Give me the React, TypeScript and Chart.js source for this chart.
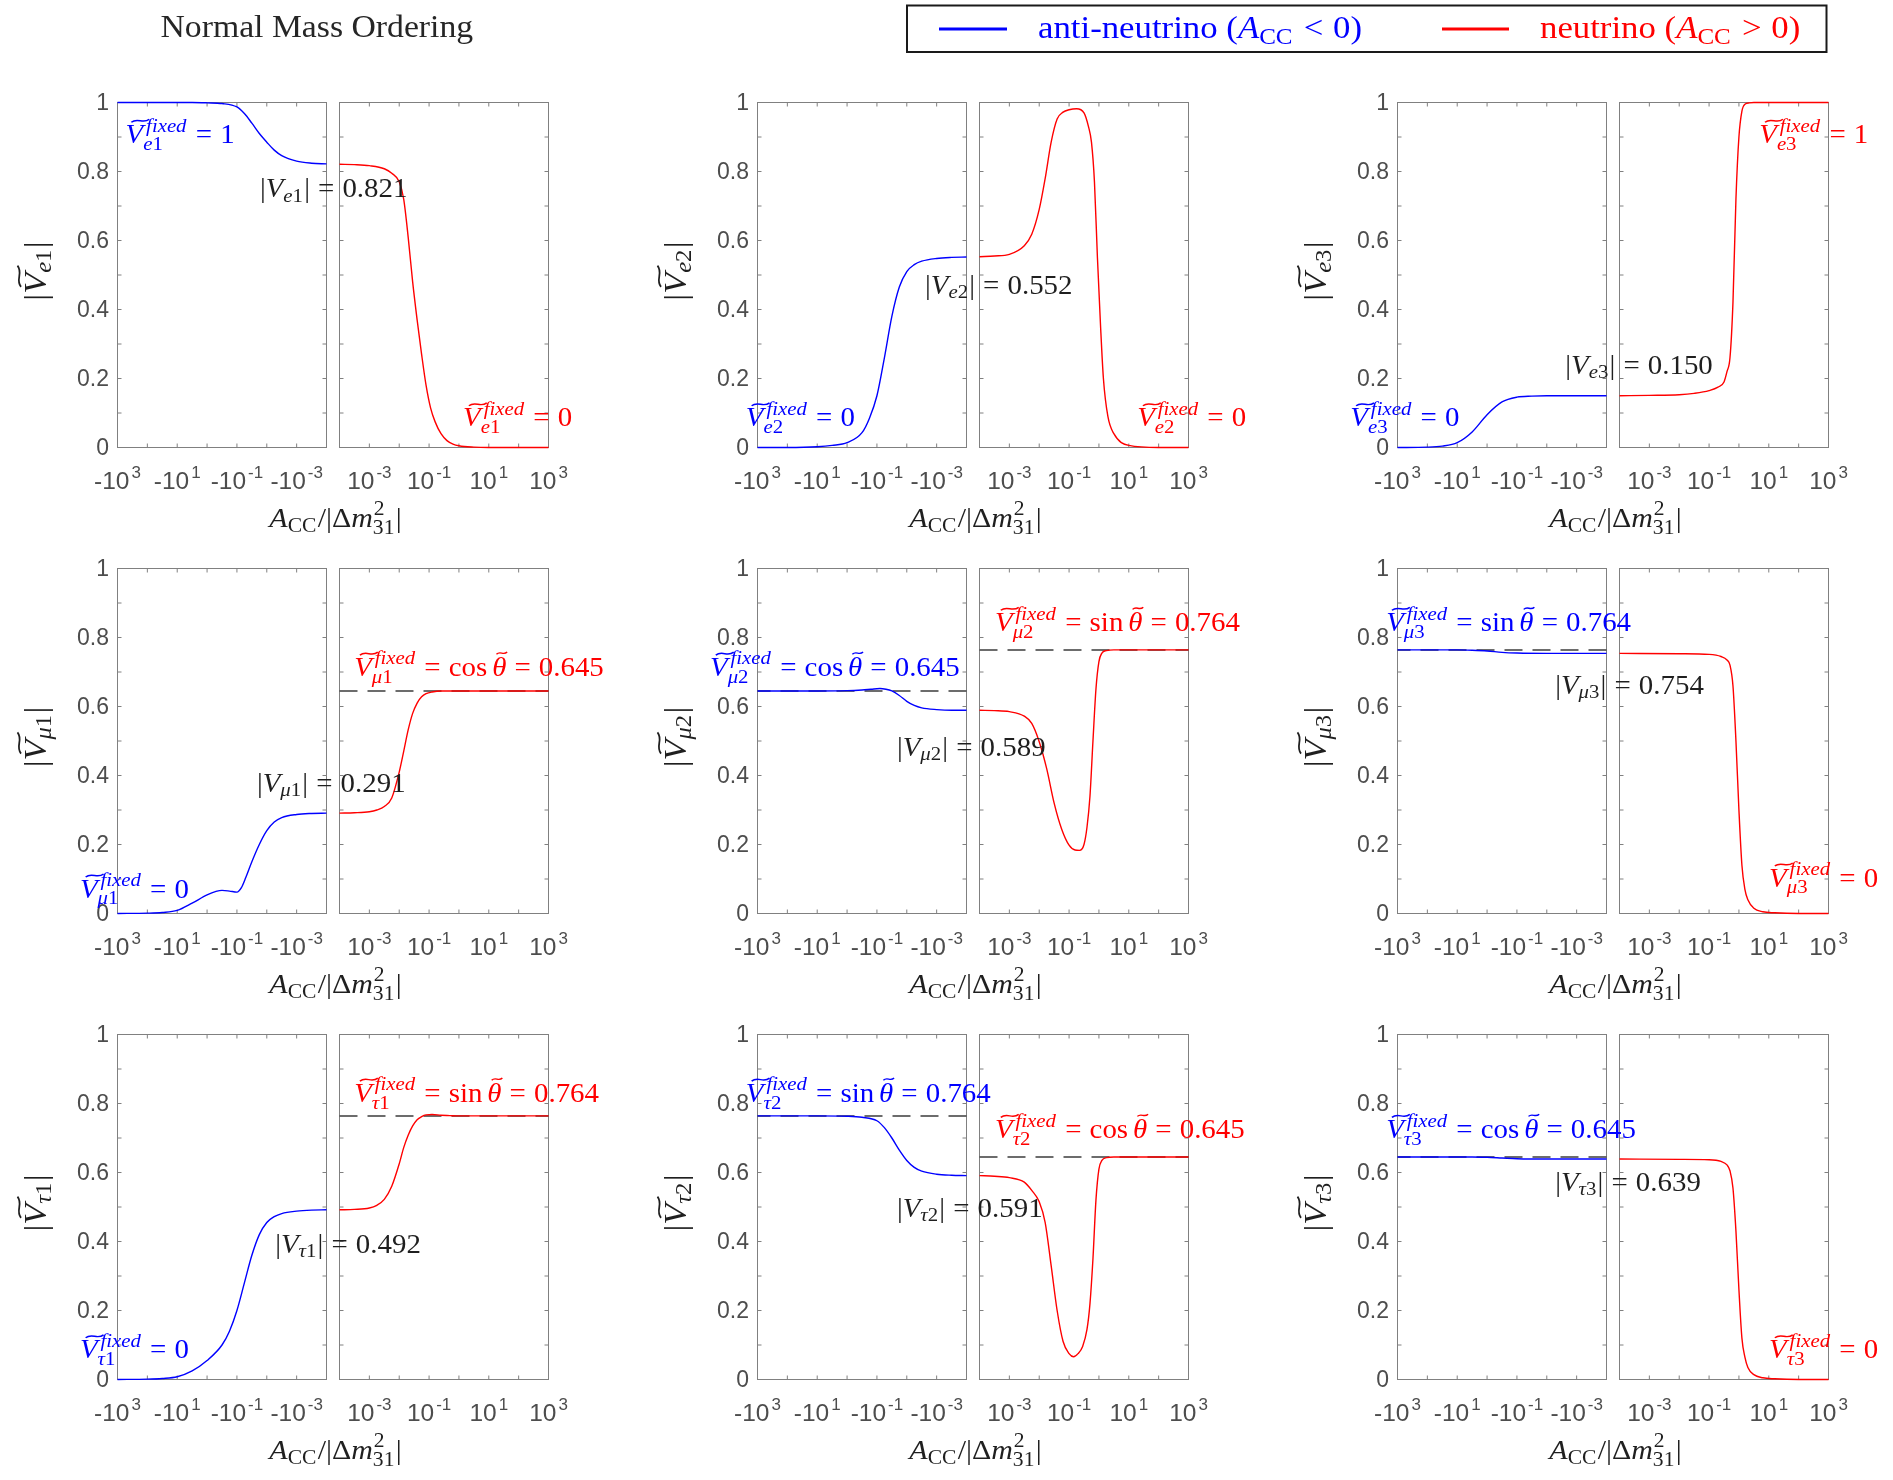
import React, { useEffect, useRef } from 'react';
import { Chart, registerables } from 'chart.js';

Chart.register(...registerables);

// ------------------------------------------------------------------ data
const X_DECADES = [-4, -3, -2, -1, 0, 1, 2, 3];
const X_LABELS_NEG = [3, 1, -1, -3];
const X_LABELS_POS = [-3, -1, 1, 3];
const Y_LABELS = [0, 0.2, 0.4, 0.6, 0.8, 1];
const Y_MINOR = [0.1, 0.2, 0.3, 0.4, 0.5, 0.6, 0.7, 0.8, 0.9];

const COS_THETA = 0.645;
const SIN_THETA = 0.764;
const VACUUM = [0.821, 0.552, 0.15, 0.291, 0.589, 0.754, 0.492, 0.591, 0.639];
const FLAVOURS = ['e', 'μ', 'τ'];
const MASS_IDX = ['1', '2', '3'];
const FIXED_NEG = ['1', '0', '0', '0', 'cos', 'sin', '0', 'sin', 'cos'];
const FIXED_POS = ['0', '0', '1', 'cos', 'sin', '0', 'sin', 'cos', '0'];

// x = log10|A_CC/Δm²31| ; NEG = anti-neutrino (A<0), POS = neutrino (A>0)
const E1_NEG_X = [3, 2, 1, 0.5, 0, -0.5, -1, -1.25, -1.5, -1.75, -2, -2.25, -2.5, -3, -3.5, -4];
const E1_NEG_Y = [1, 1, 1, 1, 0.999, 0.997, 0.987, 0.968, 0.94, 0.91, 0.885, 0.862, 0.846, 0.83, 0.824, 0.822];
const E1_POS_X = [-4, -3.5, -3, -2.5, -2.25, -2, -1.85, -1.7, -1.55, -1.4, -1.25, -1.1, -0.95, -0.8, -0.6, -0.4, -0.2, 0, 0.5, 1, 2, 3];
const E1_POS_Y = [0.821, 0.82, 0.817, 0.808, 0.795, 0.77, 0.72, 0.61, 0.48, 0.37, 0.27, 0.18, 0.115, 0.075, 0.04, 0.02, 0.01, 0.005, 0.001, 0, 0, 0];

const E2_NEG_X = [3, 2, 1, 0.5, 0, -0.5, -0.75, -1, -1.25, -1.5, -1.75, -2, -2.25, -2.5, -3, -3.5, -4];
const E2_NEG_Y = [0, 0, 0.002, 0.006, 0.014, 0.043, 0.085, 0.15, 0.26, 0.38, 0.465, 0.51, 0.53, 0.54, 0.548, 0.551, 0.552];
const E2_POS_X = [-4, -3.5, -3, -2.5, -2.25, -2, -1.8, -1.6, -1.4, -1.2, -1, -0.75, -0.5, -0.35, -0.25, -0.15, -0.05, 0.05, 0.15, 0.3, 0.5, 1, 2, 3];
const E2_POS_Y = [0.553, 0.555, 0.56, 0.585, 0.618, 0.69, 0.78, 0.885, 0.952, 0.972, 0.979, 0.982, 0.97, 0.93, 0.885, 0.77, 0.55, 0.36, 0.2, 0.09, 0.04, 0.006, 0, 0];

const E3_NEG_X = [3, 2, 1.5, 1, 0.5, 0, -0.5, -1, -1.5, -2, -3, -4];
const E3_NEG_Y = [0, 0.001, 0.004, 0.014, 0.045, 0.095, 0.132, 0.146, 0.149, 0.15, 0.15, 0.15];
const E3_POS_X = [-4, -3, -2, -1.5, -1, -0.7, -0.5, -0.4, -0.3, -0.2, -0.1, 0, 0.1, 0.2, 0.35, 0.5, 1, 2, 3];
const E3_POS_Y = [0.15, 0.151, 0.153, 0.157, 0.165, 0.175, 0.19, 0.22, 0.26, 0.42, 0.72, 0.9, 0.975, 0.995, 0.999, 1, 1, 1, 1];

const M1_NEG_X = [3, 2, 1.5, 1, 0.5, 0, -0.3, -0.5, -0.75, -1, -1.15, -1.3, -1.5, -1.75, -2, -2.25, -2.5, -3, -3.5, -4];
const M1_NEG_Y = [0, 0.001, 0.003, 0.009, 0.03, 0.054, 0.064, 0.067, 0.065, 0.062, 0.075, 0.105, 0.15, 0.2, 0.24, 0.265, 0.278, 0.287, 0.29, 0.291];
const M1_POS_X = [-4, -3.5, -3, -2.75, -2.5, -2.25, -2, -1.85, -1.7, -1.55, -1.4, -1.25, -1.1, -0.9, -0.6, 0, 1, 2, 3];
const M1_POS_Y = [0.291, 0.292, 0.295, 0.3, 0.31, 0.335, 0.41, 0.47, 0.532, 0.58, 0.61, 0.628, 0.637, 0.642, 0.645, 0.645, 0.645, 0.645, 0.645];

const M2_NEG_X = [3, 2, 1, 0, -0.5, -0.8, -1.1, -1.3, -1.5, -1.75, -2, -2.25, -2.5, -3, -3.5, -4];
const M2_NEG_Y = [0.645, 0.645, 0.645, 0.646, 0.648, 0.65, 0.652, 0.65, 0.645, 0.632, 0.615, 0.603, 0.596, 0.591, 0.589, 0.589];
const M2_POS_X = [-4, -3.5, -3, -2.5, -2.25, -2, -1.75, -1.5, -1.25, -1, -0.8, -0.65, -0.5, -0.4, -0.3, -0.2, -0.1, 0, 0.1, 0.25, 0.5, 1, 2, 3];
const M2_POS_Y = [0.589, 0.588, 0.585, 0.572, 0.551, 0.498, 0.42, 0.32, 0.245, 0.198, 0.184, 0.183, 0.2, 0.25, 0.34, 0.5, 0.65, 0.73, 0.755, 0.762, 0.764, 0.764, 0.764, 0.764];

const M3_NEG_X = [3, 1, 0.5, 0, -0.5, -1, -2, -4];
const M3_NEG_Y = [0.764, 0.764, 0.763, 0.761, 0.757, 0.755, 0.754, 0.754];
const M3_POS_X = [-4, -2, -1, -0.6, -0.4, -0.3, -0.2, -0.1, 0, 0.1, 0.2, 0.3, 0.5, 0.8, 1.2, 2, 3];
const M3_POS_Y = [0.754, 0.753, 0.751, 0.745, 0.735, 0.72, 0.66, 0.5, 0.3, 0.14, 0.07, 0.04, 0.015, 0.005, 0.002, 0, 0];

const T1_NEG_X = [3, 2, 1.5, 1, 0.5, 0, -0.5, -0.75, -1, -1.25, -1.5, -1.75, -2, -2.25, -2.5, -3, -3.5, -4];
const T1_NEG_Y = [0, 0.001, 0.003, 0.008, 0.025, 0.055, 0.1, 0.14, 0.2, 0.28, 0.36, 0.42, 0.455, 0.472, 0.481, 0.488, 0.491, 0.492];
const T1_POS_X = [-4, -3.5, -3, -2.75, -2.5, -2.25, -2, -1.85, -1.7, -1.55, -1.4, -1.25, -1.1, -0.9, -0.6, -0.3, 0, 1, 2, 3];
const T1_POS_Y = [0.492, 0.493, 0.497, 0.505, 0.522, 0.56, 0.625, 0.672, 0.708, 0.735, 0.753, 0.762, 0.767, 0.768, 0.766, 0.765, 0.764, 0.764, 0.764, 0.764];

const T2_NEG_X = [3, 2, 1, 0, -0.5, -1, -1.25, -1.5, -1.75, -2, -2.25, -2.5, -3, -3.5, -4];
const T2_NEG_Y = [0.764, 0.764, 0.764, 0.763, 0.76, 0.75, 0.73, 0.7, 0.665, 0.635, 0.615, 0.604, 0.595, 0.592, 0.591];
const T2_POS_X = [-4, -3.5, -3, -2.5, -2.25, -2, -1.8, -1.6, -1.4, -1.2, -1, -0.85, -0.7, -0.55, -0.4, -0.3, -0.2, -0.1, 0, 0.1, 0.25, 0.5, 1, 2, 3];
const T2_POS_Y = [0.591, 0.589, 0.585, 0.572, 0.548, 0.515, 0.455, 0.33, 0.2, 0.11, 0.075, 0.066, 0.075, 0.095, 0.145, 0.22, 0.35, 0.52, 0.61, 0.635, 0.643, 0.645, 0.645, 0.645, 0.645];

const T3_NEG_X = [3, 1, 0.5, 0, -0.5, -1, -2, -4];
const T3_NEG_Y = [0.645, 0.645, 0.645, 0.644, 0.642, 0.64, 0.639, 0.639];
const T3_POS_X = [-4, -2, -1, -0.6, -0.4, -0.3, -0.2, -0.1, 0, 0.1, 0.2, 0.3, 0.5, 0.8, 1.2, 2, 3];
const T3_POS_Y = [0.639, 0.638, 0.637, 0.632, 0.622, 0.605, 0.555, 0.43, 0.26, 0.12, 0.065, 0.035, 0.014, 0.005, 0.002, 0, 0];

const NEG_CURVES = [
  [E1_NEG_X, E1_NEG_Y], [E2_NEG_X, E2_NEG_Y], [E3_NEG_X, E3_NEG_Y],
  [M1_NEG_X, M1_NEG_Y], [M2_NEG_X, M2_NEG_Y], [M3_NEG_X, M3_NEG_Y],
  [T1_NEG_X, T1_NEG_Y], [T2_NEG_X, T2_NEG_Y], [T3_NEG_X, T3_NEG_Y],
];
const POS_CURVES = [
  [E1_POS_X, E1_POS_Y], [E2_POS_X, E2_POS_Y], [E3_POS_X, E3_POS_Y],
  [M1_POS_X, M1_POS_Y], [M2_POS_X, M2_POS_Y], [M3_POS_X, M3_POS_Y],
  [T1_POS_X, T1_POS_Y], [T2_POS_X, T2_POS_Y], [T3_POS_X, T3_POS_Y],
];

// annotation anchors in data coordinates [log10|A|, value] (text baseline, left edge)
const FIXED_NEG_AT = [[2.73, 0.883], [3.39, 0.061], [4.58, 0.061], [4.26, 0.046], [4.59, 0.689], [3.38, 0.819], [4.26, 0.061], [3.39, 0.805], [3.38, 0.7]];
const FIXED_POS_AT = [[0.14, 0.061], [1.28, 0.061], [0.68, 0.883], [-3.51, 0.689], [-3.48, 0.819], [1.01, 0.078], [-3.51, 0.805], [-3.48, 0.7], [1.01, 0.061]];
const VACUUM_AT = [[-1.77, 0.726], [-2.61, 0.446], [-2.62, 0.214], [-1.67, 0.353], [-1.67, 0.457], [-2.28, 0.637], [-2.28, 0.368], [-1.67, 0.472], [-2.28, 0.547]];

// ------------------------------------------------------------------ style / layout
const BLUE = '#0000ff';
const RED = '#ff0000';
const AXIS_COLOR = '#808080';
const TICK_COLOR = '#4d4d4d';
const TEXT_COLOR = '#1f1f1f';
const SERIF = '"Liberation Serif", "Times New Roman", serif';
const SANS = '"Liberation Sans", Arial, Helvetica, sans-serif';
const XS = 1.07;
const SCR = 0.72;
const MATH_SIZE = 27;

const COL_X = [117.5, 757.5, 1397.5];
const ROW_Y = [102.5, 568.5, 1034.5];
const PW = 209;
const PH = 345;
const R_OFF = 222;

// ------------------------------------------------------------------ rich text
type Seg = { s: string; it?: boolean };
type Piece =
  | { k: 't'; segs: Seg[] }
  | { k: 'sp'; em: number }
  | { k: 'tV' }
  | { k: 'tth' }
  | { k: 'ss'; sup?: Seg[]; sub?: Seg[]; supDx?: number };

const fnt = (size: number, it?: boolean) => `${it ? 'italic ' : ''}${size}px ${SERIF}`;

function segsW(ctx: any, segs: Seg[], size: number) {
  let w = 0;
  for (const g of segs) {
    ctx.font = fnt(size, g.it);
    w += ctx.measureText(g.s).width;
  }
  return w;
}
function drawSegs(ctx: any, segs: Seg[], size: number, x: number, y: number) {
  for (const g of segs) {
    ctx.font = fnt(size, g.it);
    ctx.fillText(g.s, x, y);
    x += ctx.measureText(g.s).width;
  }
}
function pieceW(ctx: any, p: Piece, size: number): number {
  if (p.k === 't') return segsW(ctx, p.segs, size);
  if (p.k === 'sp') return p.em * size;
  if (p.k === 'tV') { ctx.font = fnt(size, true); return ctx.measureText('V').width; }
  if (p.k === 'tth') { ctx.font = fnt(size, true); return ctx.measureText('θ').width; }
  const s = size * SCR;
  const dx = p.supDx ?? 0.1;
  const a = p.sup ? segsW(ctx, p.sup, s) + dx * size : 0;
  const b = p.sub ? segsW(ctx, p.sub, s) : 0;
  return Math.max(a, b) + 0.04 * size;
}
function tilde(ctx: any, x0: number, x1: number, yc: number, amp: number, lw: number) {
  const w = x1 - x0;
  ctx.beginPath();
  ctx.lineWidth = lw;
  ctx.moveTo(x0, yc + amp);
  ctx.bezierCurveTo(x0 + w * 0.35, yc - 2.4 * amp, x0 + w * 0.65, yc + 2.4 * amp, x1, yc - amp);
  ctx.stroke();
}
function drawRich(ctx: any, pieces: Piece[], size: number, x: number, y: number, color: string, align: 'left' | 'center' = 'left') {
  ctx.save();
  ctx.fillStyle = color;
  ctx.strokeStyle = color;
  ctx.textAlign = 'left';
  ctx.textBaseline = 'alphabetic';
  const widths = pieces.map((p) => pieceW(ctx, p, size));
  const total = widths.reduce((a, b) => a + b, 0);
  ctx.translate(x, y);
  ctx.scale(XS, 1);
  let cx = align === 'center' ? -total / 2 : 0;
  pieces.forEach((p, i) => {
    if (p.k === 't') drawSegs(ctx, p.segs, size, cx, 0);
    else if (p.k === 'tV') {
      ctx.font = fnt(size, true);
      ctx.fillText('V', cx, 0);
      tilde(ctx, cx + 0.2 * size, cx + 0.82 * size, -0.82 * size, 0.055 * size, 0.055 * size);
    } else if (p.k === 'tth') {
      ctx.font = fnt(size, true);
      ctx.fillText('θ', cx, 0);
      tilde(ctx, cx + 0.15 * size, cx + 0.52 * size, -0.84 * size, 0.04 * size, 0.05 * size);
    } else if (p.k === 'ss') {
      const s = size * SCR;
      if (p.sup) drawSegs(ctx, p.sup, s, cx + (p.supDx ?? 0.1) * size, -0.42 * size);
      if (p.sub) drawSegs(ctx, p.sub, s, cx, (p.sup ? 0.25 : 0.17) * size);
    }
    cx += widths[i];
  });
  ctx.restore();
}

const EQ: Piece[] = [{ k: 'sp', em: 0.28 }, { k: 't', segs: [{ s: '=' }] }, { k: 'sp', em: 0.28 }];
const flavSeg = (p: number): Seg[] => [{ s: FLAVOURS[Math.floor(p / 3)], it: true }, { s: MASS_IDX[p % 3] }];

function fixedLabel(p: number, rhs: string): Piece[] {
  const out: Piece[] = [{ k: 'tV' }, { k: 'ss', sup: [{ s: 'fixed', it: true }], sub: flavSeg(p) }, ...EQ];
  if (rhs === 'cos' || rhs === 'sin') {
    const v = rhs === 'cos' ? COS_THETA : SIN_THETA;
    out.push({ k: 't', segs: [{ s: rhs }] }, { k: 'sp', em: 0.17 }, { k: 'tth' }, ...EQ, { k: 't', segs: [{ s: v.toFixed(3) }] });
  } else {
    out.push({ k: 't', segs: [{ s: rhs }] });
  }
  return out;
}
function vacuumLabel(p: number): Piece[] {
  return [
    { k: 't', segs: [{ s: '|' }, { s: 'V', it: true }] },
    { k: 'ss', sub: flavSeg(p) },
    { k: 't', segs: [{ s: '|' }] },
    ...EQ,
    { k: 't', segs: [{ s: VACUUM[p].toFixed(3) }] },
  ];
}
function yLabel(p: number): Piece[] {
  return [{ k: 't', segs: [{ s: '|' }] }, { k: 'tV' }, { k: 'ss', sub: flavSeg(p) }, { k: 't', segs: [{ s: '|' }] }];
}
const X_TITLE: Piece[] = [
  { k: 't', segs: [{ s: 'A', it: true }] },
  { k: 'ss', sub: [{ s: 'CC' }] },
  { k: 't', segs: [{ s: '/|Δ' }, { s: 'm', it: true }] },
  { k: 'ss', sup: [{ s: '2' }], sub: [{ s: '31' }], supDx: 0.03 },
  { k: 't', segs: [{ s: '|' }] },
];
const legendText = (word: string, rel: string): Piece[] => [
  { k: 't', segs: [{ s: word + ' (' }, { s: 'A', it: true }] },
  { k: 'ss', sub: [{ s: 'CC' }] },
  { k: 'sp', em: 0.28 },
  { k: 't', segs: [{ s: rel }] },
  { k: 'sp', em: 0.28 },
  { k: 't', segs: [{ s: '0)' }] },
];

// ------------------------------------------------------------------ chart building
type Side = 'L' | 'R';

function geometry(p: number, side: Side) {
  const r = Math.floor(p / 3);
  const c = p % 3;
  const left = COL_X[c] + (side === 'R' ? R_OFF : 0);
  const top = ROW_Y[r];
  const padL = side === 'L' ? 117.5 : 20.5;
  const padR = side === 'L' ? 149.5 : 90.5;
  const padT = 100.5;
  const padB = 99.5;
  return {
    cx: left - padL,
    cy: top - padT,
    cw: padL + PW + padR,
    ch: padT + PH + padB,
    pad: { left: padL, right: padR, top: padT, bottom: padB },
  };
}

function line(ctx: any, x1: number, y1: number, x2: number, y2: number) {
  ctx.beginPath();
  ctx.moveTo(x1, y1);
  ctx.lineTo(x2, y2);
  ctx.stroke();
}

function decoPlugin(p: number, side: Side) {
  return {
    id: 'deco' + p + side,
    beforeDatasetsDraw(chart: any) {
      const { ctx, chartArea: a, scales } = chart;
      const xs = scales.x;
      const ys = scales.y;
      ctx.save();
      ctx.strokeStyle = AXIS_COLOR;
      ctx.lineWidth = 1;
      ctx.strokeRect(a.left, a.top, a.right - a.left, a.bottom - a.top);
      const TL = 4;
      for (const v of Y_MINOR) {
        const py = ys.getPixelForValue(v);
        line(ctx, a.left, py, a.left + TL, py);
        line(ctx, a.right, py, a.right - TL, py);
      }
      for (const e of X_DECADES.slice(1, -1)) {
        const px = xs.getPixelForValue(10 ** e);
        line(ctx, px, a.bottom, px, a.bottom - TL);
        line(ctx, px, a.top, px, a.top + TL);
      }
      ctx.fillStyle = TICK_COLOR;
      if (side === 'L') {
        ctx.font = `23px ${SANS}`;
        ctx.textAlign = 'right';
        ctx.textBaseline = 'middle';
        for (const v of Y_LABELS) ctx.fillText(String(v), a.left - 8.5, ys.getPixelForValue(v) + 1);
      }
      ctx.textAlign = 'left';
      ctx.textBaseline = 'alphabetic';
      for (const e of side === 'L' ? X_LABELS_NEG : X_LABELS_POS) {
        const px = xs.getPixelForValue(10 ** e);
        const base = (side === 'L' ? '-' : '') + '10';
        const sup = String(e);
        ctx.font = `24.5px ${SANS}`;
        const wb = ctx.measureText(base).width;
        ctx.font = `17px ${SANS}`;
        const ws = ctx.measureText(sup).width;
        const x0 = px - (wb + ws + 2) / 2;
        ctx.font = `24.5px ${SANS}`;
        ctx.fillText(base, x0, a.bottom + 41);
        ctx.font = `17px ${SANS}`;
        ctx.fillText(sup, x0 + wb + 2, a.bottom + 30.5);
      }
      ctx.restore();
    },
    afterDatasetsDraw(chart: any) {
      const { ctx, chartArea: a, scales } = chart;
      const xs = scales.x;
      const ys = scales.y;
      const at = (pt: number[]) => [xs.getPixelForValue(10 ** pt[0]), ys.getPixelForValue(pt[1])];
      if (side === 'L') {
        const [bx, by] = at(FIXED_NEG_AT[p]);
        drawRich(ctx, fixedLabel(p, FIXED_NEG[p]), MATH_SIZE, bx, by, BLUE);
        const [vx, vy] = at(VACUUM_AT[p]);
        drawRich(ctx, vacuumLabel(p), MATH_SIZE, vx, vy, TEXT_COLOR);
        // y title (rotated)
        ctx.save();
        ctx.translate(a.left - 80, (a.top + a.bottom) / 2 - 4);
        ctx.rotate(-Math.PI / 2);
        drawRich(ctx, yLabel(p), 32, 0, 8, TEXT_COLOR, 'center');
        ctx.restore();
        // x title, centred under the pair of sub-axes
        drawRich(ctx, X_TITLE, 28, a.left + 218, a.bottom + 79.5, TEXT_COLOR, 'center');
      } else {
        const [rx, ry] = at(FIXED_POS_AT[p]);
        drawRich(ctx, fixedLabel(p, FIXED_POS[p]), MATH_SIZE, rx, ry, RED);
      }
    },
  };
}

function subplotConfig(p: number, side: Side) {
  const g = geometry(p, side);
  const [ex, ev] = side === 'L' ? NEG_CURVES[p] : POS_CURVES[p];
  const fixed = side === 'L' ? FIXED_NEG[p] : FIXED_POS[p];
  const datasets: any[] = [
    {
      data: ex.map((e, i) => ({ x: 10 ** e, y: ev[i] })),
      borderColor: side === 'L' ? BLUE : RED,
      borderWidth: 1.4,
      pointRadius: 0,
      cubicInterpolationMode: 'monotone',
      fill: false,
      clip: 4,
    },
  ];
  if (fixed === 'cos' || fixed === 'sin') {
    const v = fixed === 'cos' ? COS_THETA : SIN_THETA;
    datasets.push({
      data: [{ x: 10 ** X_DECADES[0], y: v }, { x: 10 ** X_DECADES[X_DECADES.length - 1], y: v }],
      borderColor: '#3c3c3c',
      borderWidth: 1.5,
      borderDash: [18, 10],
      pointRadius: 0,
      fill: false,
      clip: 4,
    });
  }
  return {
    type: 'line',
    data: { datasets },
    options: {
      animation: false,
      responsive: false,
      devicePixelRatio: 1,
      events: [],
      layout: { autoPadding: false, padding: g.pad },
      plugins: { legend: { display: false }, tooltip: { enabled: false }, title: { display: false } },
      scales: {
        x: { type: 'logarithmic', min: 10 ** X_DECADES[0], max: 10 ** X_DECADES[X_DECADES.length - 1], reverse: side === 'L', display: false },
        y: { type: 'linear', min: 0, max: 1, display: false },
      },
    },
    plugins: [decoPlugin(p, side)],
  };
}

const headerPlugin = {
  id: 'header',
  afterDraw(chart: any) {
    const ctx = chart.ctx;
    drawRich(ctx, [{ k: 't', segs: [{ s: 'Normal Mass Ordering' }] }], 31.5, 160.5, 37, '#262626');
    ctx.save();
    ctx.strokeStyle = '#1a1a1a';
    ctx.lineWidth = 2;
    ctx.strokeRect(907, 5.5, 919.5, 46.5);
    ctx.lineWidth = 3;
    ctx.strokeStyle = BLUE;
    line(ctx, 939, 29, 1007, 29);
    ctx.strokeStyle = RED;
    line(ctx, 1442, 29, 1509, 29);
    ctx.restore();
    drawRich(ctx, legendText('anti-neutrino', '<'), 32.5, 1038, 38, BLUE);
    drawRich(ctx, legendText('neutrino', '>'), 32.5, 1540, 38, RED);
  },
};

const SUBPLOTS: { p: number; side: Side }[] = [];
for (let p = 0; p < 9; p++) {
  SUBPLOTS.push({ p, side: 'R' });
  SUBPLOTS.push({ p, side: 'L' });
}

export default function App() {
  const refs = useRef<(HTMLCanvasElement | null)[]>([]);
  const headRef = useRef<HTMLCanvasElement | null>(null);

  useEffect(() => {
    const charts: Chart[] = [];
    SUBPLOTS.forEach((sp, i) => {
      const c = refs.current[i];
      if (c) charts.push(new Chart(c, subplotConfig(sp.p, sp.side) as any));
    });
    if (headRef.current) {
      charts.push(
        new Chart(headRef.current, {
          type: 'line',
          data: { datasets: [] },
          options: {
            animation: false,
            responsive: false,
            devicePixelRatio: 1,
            events: [],
            plugins: { legend: { display: false }, tooltip: { enabled: false } },
            scales: { x: { display: false }, y: { display: false } },
          },
          plugins: [headerPlugin],
        } as any),
      );
    }
    return () => charts.forEach((ch) => ch.destroy());
  }, []);

  return (
    <div style={{ position: 'absolute', left: 0, top: 0, width: 1893, height: 1480, overflow: 'hidden', background: '#ffffff' }}>
      {SUBPLOTS.map((sp, i) => {
        const g = geometry(sp.p, sp.side);
        return (
          <canvas
            key={i}
            ref={(el) => { refs.current[i] = el; }}
            width={g.cw}
            height={g.ch}
            style={{ position: 'absolute', left: g.cx, top: g.cy, zIndex: sp.side === 'L' ? 2 : 1 }}
          />
        );
      })}
      <canvas ref={headRef} width={1893} height={60} style={{ position: 'absolute', left: 0, top: 0, zIndex: 3 }} />
    </div>
  );
}
